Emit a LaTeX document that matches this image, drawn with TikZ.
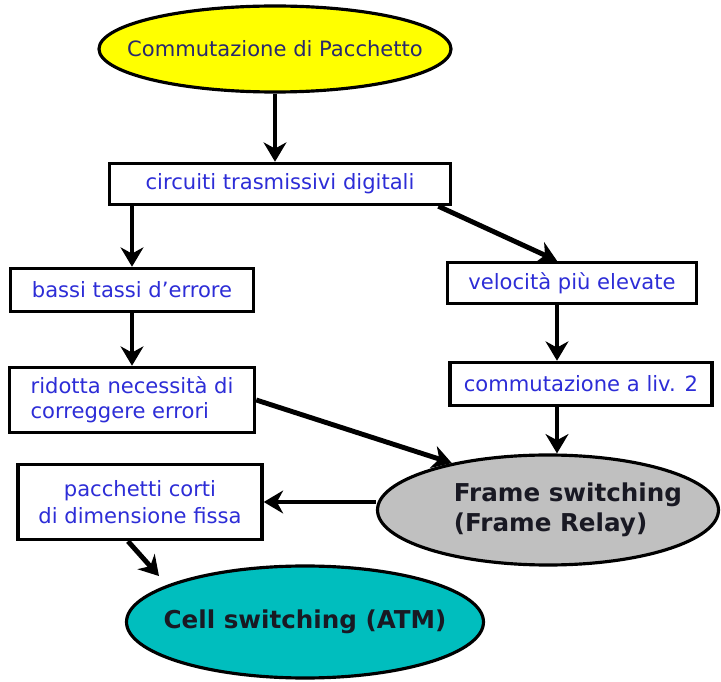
\documentclass[tikz,border=0pt]{standalone}
\usepackage{fontspec}
\setmainfont{DejaVu Sans}
\usetikzlibrary{arrows.meta}
\usetikzlibrary{shapes.geometric}
\usetikzlibrary{calc}
\definecolor{giallo}{RGB}{255,255,0}
\definecolor{grigio}{RGB}{192,192,192}
\definecolor{ciano}{RGB}{0,190,190}
\definecolor{testoblu}{RGB}{45,45,215}
\definecolor{testoscuro}{RGB}{40,40,110}
\definecolor{testonero}{RGB}{25,25,35}

\begin{document}
\begin{tikzpicture}[x=0.02cm,y=-0.02cm]
% Stili
\tikzstyle{riquadro}=[draw,line width=2pt,fill=white,text=testoblu,inner sep=0pt,font=\fontsize{12}{14.5}\selectfont]
\tikzstyle{ovale}=[ellipse,draw,line width=1.8pt,inner sep=0pt]
\tikzstyle{scritta}=[align=left,text=testonero,font=\bfseries\fontsize{14}{17}\selectfont]
\tikzstyle{freccia}=[-{Stealth[length=11pt,width=13pt,inset=3.5pt]},line width=2.8pt]
% Dimensioni
\def\pix{0.02cm}
% Cornice
\useasboundingbox (0,0) rectangle (721,682);
% Ovali
\node[ovale,fill=giallo,minimum width=352*\pix,minimum height=86*\pix,
  label={[text=testoscuro,font=\fontsize{12}{14.5}\selectfont]center:Commutazione di Pacchetto}] (pacchetto) at (275,49) {};
\node[ovale,fill=grigio,minimum width=341*\pix,minimum height=110*\pix,
  label={[scritta,xshift=20*\pix]center:Frame switching\\(Frame Relay)}] (frame) at (548,510) {};
\node[ovale,fill=ciano,minimum width=357*\pix,minimum height=112*\pix,
  label={[scritta]center:Cell switching (ATM)}] (cella) at (305,622) {};
% Riquadri
\node[riquadro,minimum width=341*\pix,minimum height=41*\pix] (circuiti) at (280,184) {circuiti trasmissivi digitali};
\node[riquadro,minimum width=243*\pix,minimum height=43*\pix] (bassi) at (132,290) {bassi tassi d'errore};
\node[riquadro,align=left,minimum width=245*\pix,minimum height=65*\pix] (ridotta) at (132,400) {ridotta necessità di\\correggere errori};
\node[riquadro,minimum width=249*\pix,minimum height=41*\pix] (velocita) at (572,283) {velocità più elevate};
\node[riquadro,minimum width=262*\pix,minimum height=43*\pix] (livello) at (581,384) {commutazione a liv. 2};
\node[riquadro,align=center,font=\fontsize{12}{15.5}\selectfont,minimum width=244*\pix,minimum height=75*\pix] (corti) at (140,502) {pacchetti corti\\di dimensione fissa};
% Frecce
\coordinate (asse) at (557,0);
\draw[freccia] (pacchetto.south) -- (pacchetto.south |- circuiti.north);
\draw[freccia] (bassi.north |- circuiti.south) -- (bassi.north);
\draw[freccia] (bassi) -- (ridotta);
\draw[freccia] (circuiti.-8) -- (asse |- velocita.north);
\draw[freccia] (asse |- velocita.south) -- (asse |- livello.north);
\draw[freccia] (asse |- livello.south) -- (asse |- frame.north);
\draw[freccia] (ridotta.east) -- (frame.154);
\draw[freccia] (frame.west |- corti.east) -- (corti.east);
\draw[freccia,shorten >=12*\pix] ($(corti.south)+(-12,0)$) -- (cella.165);
\end{tikzpicture}
\end{document}
